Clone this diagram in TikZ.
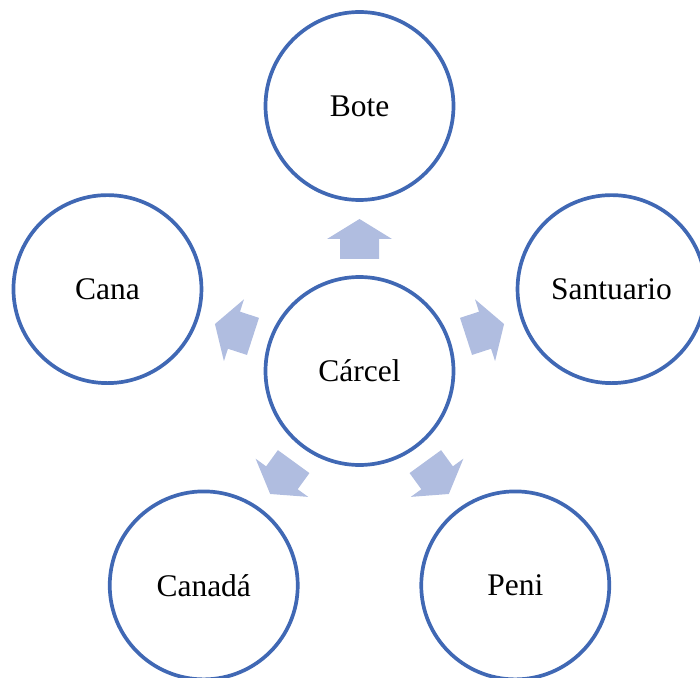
\documentclass[tikz,border=0pt]{standalone}
\usepackage{fontspec}
\setmainfont{Liberation Serif}
\definecolor{ringblue}{HTML}{4068B4}
\definecolor{arrowfill}{HTML}{B0BDE0}
\tikzset{
  ring/.style={circle, draw=ringblue, line width=3.7pt, fill=white,
    minimum size=188pt, inner sep=0pt,
    font=\fontsize{31.5}{36}\selectfont},
  blockarrow/.pic={
    \fill[arrowfill] (112,-19.5) -- (132,-19.5) -- (132,-32.5) -- (152,0)
      -- (132,32.5) -- (132,19.5) -- (112,19.5) -- cycle;
  }
}
\begin{document}
\begin{tikzpicture}[x=1pt, y=1pt]
  \useasboundingbox (-359.5,-306) rectangle (340.5,371);
  \node[ring] (c) at (0,0) {Cárcel};
  \node[ring] (bote) at (90:265) {Bote};
  \node[ring] (sant) at (18:265) {Santuario};
  \node[ring] (cana) at (162:265) {Cana};
  \node[ring] (canada) at (234:265) {Canadá};
  \node[ring] (peni) at (306:265) {Peni};
  % block arrows pointing outward from the centre
  \foreach \a in {90,18,162,234,306}
    \pic[rotate=\a] at (c.center) {blockarrow};
\end{tikzpicture}
\end{document}
